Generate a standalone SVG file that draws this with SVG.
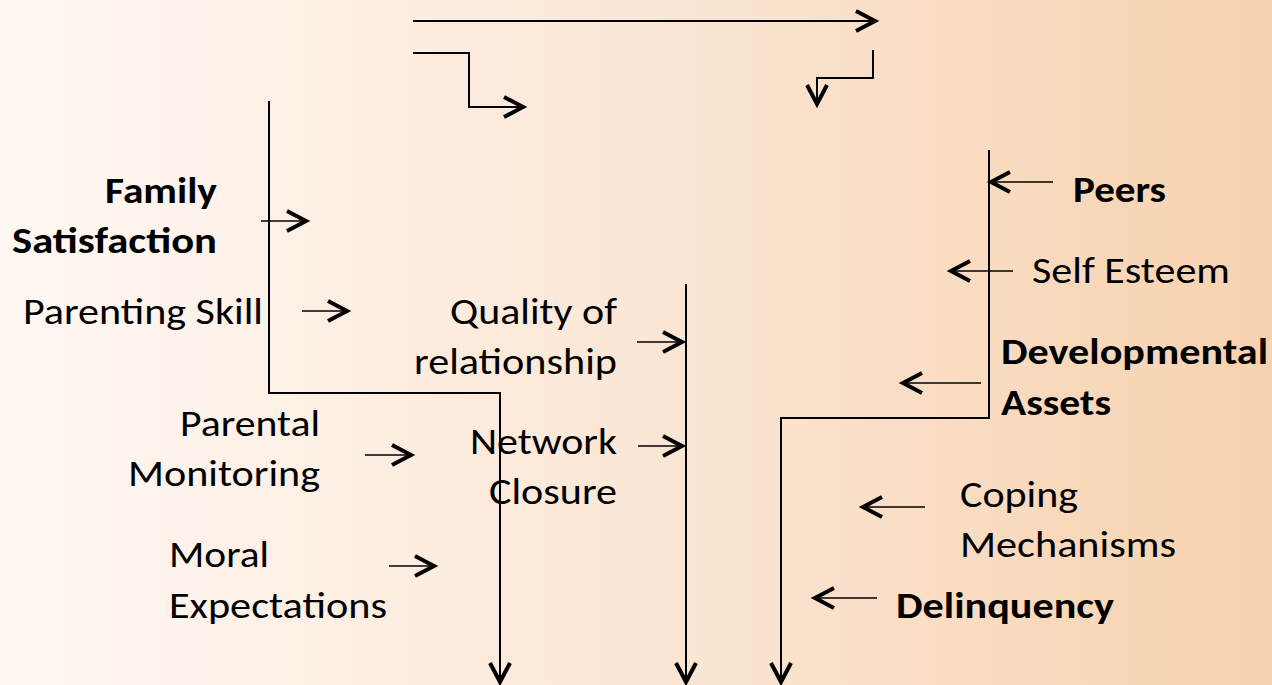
<svg xmlns="http://www.w3.org/2000/svg" width="1272" height="685" viewBox="0 0 1272 685">
  <defs>
    <linearGradient id="bg" x1="0" y1="0" x2="1" y2="0">
      <stop offset="0" stop-color="#FFF8F3"/>
      <stop offset="0.5" stop-color="#FBE7D6"/>
      <stop offset="1" stop-color="#F7D2AF"/>
    </linearGradient>
    <marker id="arr" markerUnits="userSpaceOnUse" markerWidth="30" markerHeight="30" viewBox="-25 -15 30 30" refX="0" refY="0" orient="auto" overflow="visible">
      <path d="M-20,-10 L-1,0 L-20,10" fill="none" stroke="#000" stroke-width="4" stroke-linecap="butt" stroke-linejoin="miter"/>
    </marker>
    <style>
      .ln { fill: none; stroke: #000; stroke-width: 2; }
      .sm { fill: none; stroke: #000; stroke-width: 1.6; }
      .t { font-family: Carlito, Lato, "Open Sans", sans-serif; font-size: 36px; fill: #000; }
      .b { font-weight: bold; }
    </style>
  </defs>
  <rect x="0" y="0" width="1272" height="685" fill="url(#bg)"/>

  <g id="connectors">
    <path class="ln" d="M413,21 L876,21" marker-end="url(#arr)"/>
    <path class="ln" d="M413,53 L469,53 L469,107 L524,107" marker-end="url(#arr)"/>
    <path class="ln" d="M873,50 L873,78 L817,78 L817,105" marker-end="url(#arr)"/>
    <path class="ln" d="M269,101 L269,393 L500,393 L500,683" marker-end="url(#arr)"/>
    <path class="ln" d="M686,284 L686,683" marker-end="url(#arr)"/>
    <path class="ln" d="M989,150 L989,418 L781,418 L781,683" marker-end="url(#arr)"/>
    <path class="sm" d="M261,221 L307,221" marker-end="url(#arr)"/>
    <path class="sm" d="M302,311 L348,311" marker-end="url(#arr)"/>
    <path class="sm" d="M365,455 L412,455" marker-end="url(#arr)"/>
    <path class="sm" d="M389,566 L435,566" marker-end="url(#arr)"/>
    <path class="sm" d="M637,342 L683,342" marker-end="url(#arr)"/>
    <path class="sm" d="M638,446 L683,446" marker-end="url(#arr)"/>
    <path class="sm" d="M1053,182 L990,182" marker-end="url(#arr)"/>
    <path class="sm" d="M1013,271 L950,271" marker-end="url(#arr)"/>
    <path class="sm" d="M981,383 L902,383" marker-end="url(#arr)"/>
    <path class="sm" d="M925,507 L862,507" marker-end="url(#arr)"/>
    <path class="sm" d="M877,598 L814,598" marker-end="url(#arr)"/>
  </g>

  <g id="family-satisfaction">
    <text class="t b" x="105" y="203" textLength="112" lengthAdjust="spacingAndGlyphs">Family</text>
    <text class="t b" x="12" y="253" textLength="205" lengthAdjust="spacingAndGlyphs">Satisfaction</text>
  </g>
  <g id="parenting-skill">
    <text class="t" x="23" y="324" textLength="240" lengthAdjust="spacingAndGlyphs">Parenting Skill</text>
  </g>
  <g id="parental-monitoring">
    <text class="t" x="180" y="436" textLength="140" lengthAdjust="spacingAndGlyphs">Parental</text>
    <text class="t" x="128" y="486" textLength="192" lengthAdjust="spacingAndGlyphs">Monitoring</text>
  </g>
  <g id="moral-expectations">
    <text class="t" x="169" y="567" textLength="100" lengthAdjust="spacingAndGlyphs">Moral</text>
    <text class="t" x="169" y="618" textLength="218" lengthAdjust="spacingAndGlyphs">Expectations</text>
  </g>
  <g id="quality-of-relationship">
    <text class="t" x="450" y="324" textLength="167" lengthAdjust="spacingAndGlyphs">Quality of</text>
    <text class="t" x="414" y="374" textLength="203" lengthAdjust="spacingAndGlyphs">relationship</text>
  </g>
  <g id="network-closure">
    <text class="t" x="470" y="454" textLength="147" lengthAdjust="spacingAndGlyphs">Network</text>
    <text class="t" x="489" y="504" textLength="128" lengthAdjust="spacingAndGlyphs">Closure</text>
  </g>
  <g id="peers">
    <text class="t b" x="1073" y="202" textLength="93" lengthAdjust="spacingAndGlyphs">Peers</text>
  </g>
  <g id="self-esteem">
    <text class="t" x="1032" y="283" textLength="198" lengthAdjust="spacingAndGlyphs">Self Esteem</text>
  </g>
  <g id="developmental-assets">
    <text class="t b" x="1001" y="364" textLength="267" lengthAdjust="spacingAndGlyphs">Developmental</text>
    <text class="t b" x="1001" y="415" textLength="110" lengthAdjust="spacingAndGlyphs">Assets</text>
  </g>
  <g id="coping-mechanisms">
    <text class="t" x="960" y="507" textLength="118" lengthAdjust="spacingAndGlyphs">Coping</text>
    <text class="t" x="960" y="557" textLength="216" lengthAdjust="spacingAndGlyphs">Mechanisms</text>
  </g>
  <g id="delinquency">
    <text class="t b" x="896" y="618" textLength="218" lengthAdjust="spacingAndGlyphs">Delinquency</text>
  </g>
</svg>
